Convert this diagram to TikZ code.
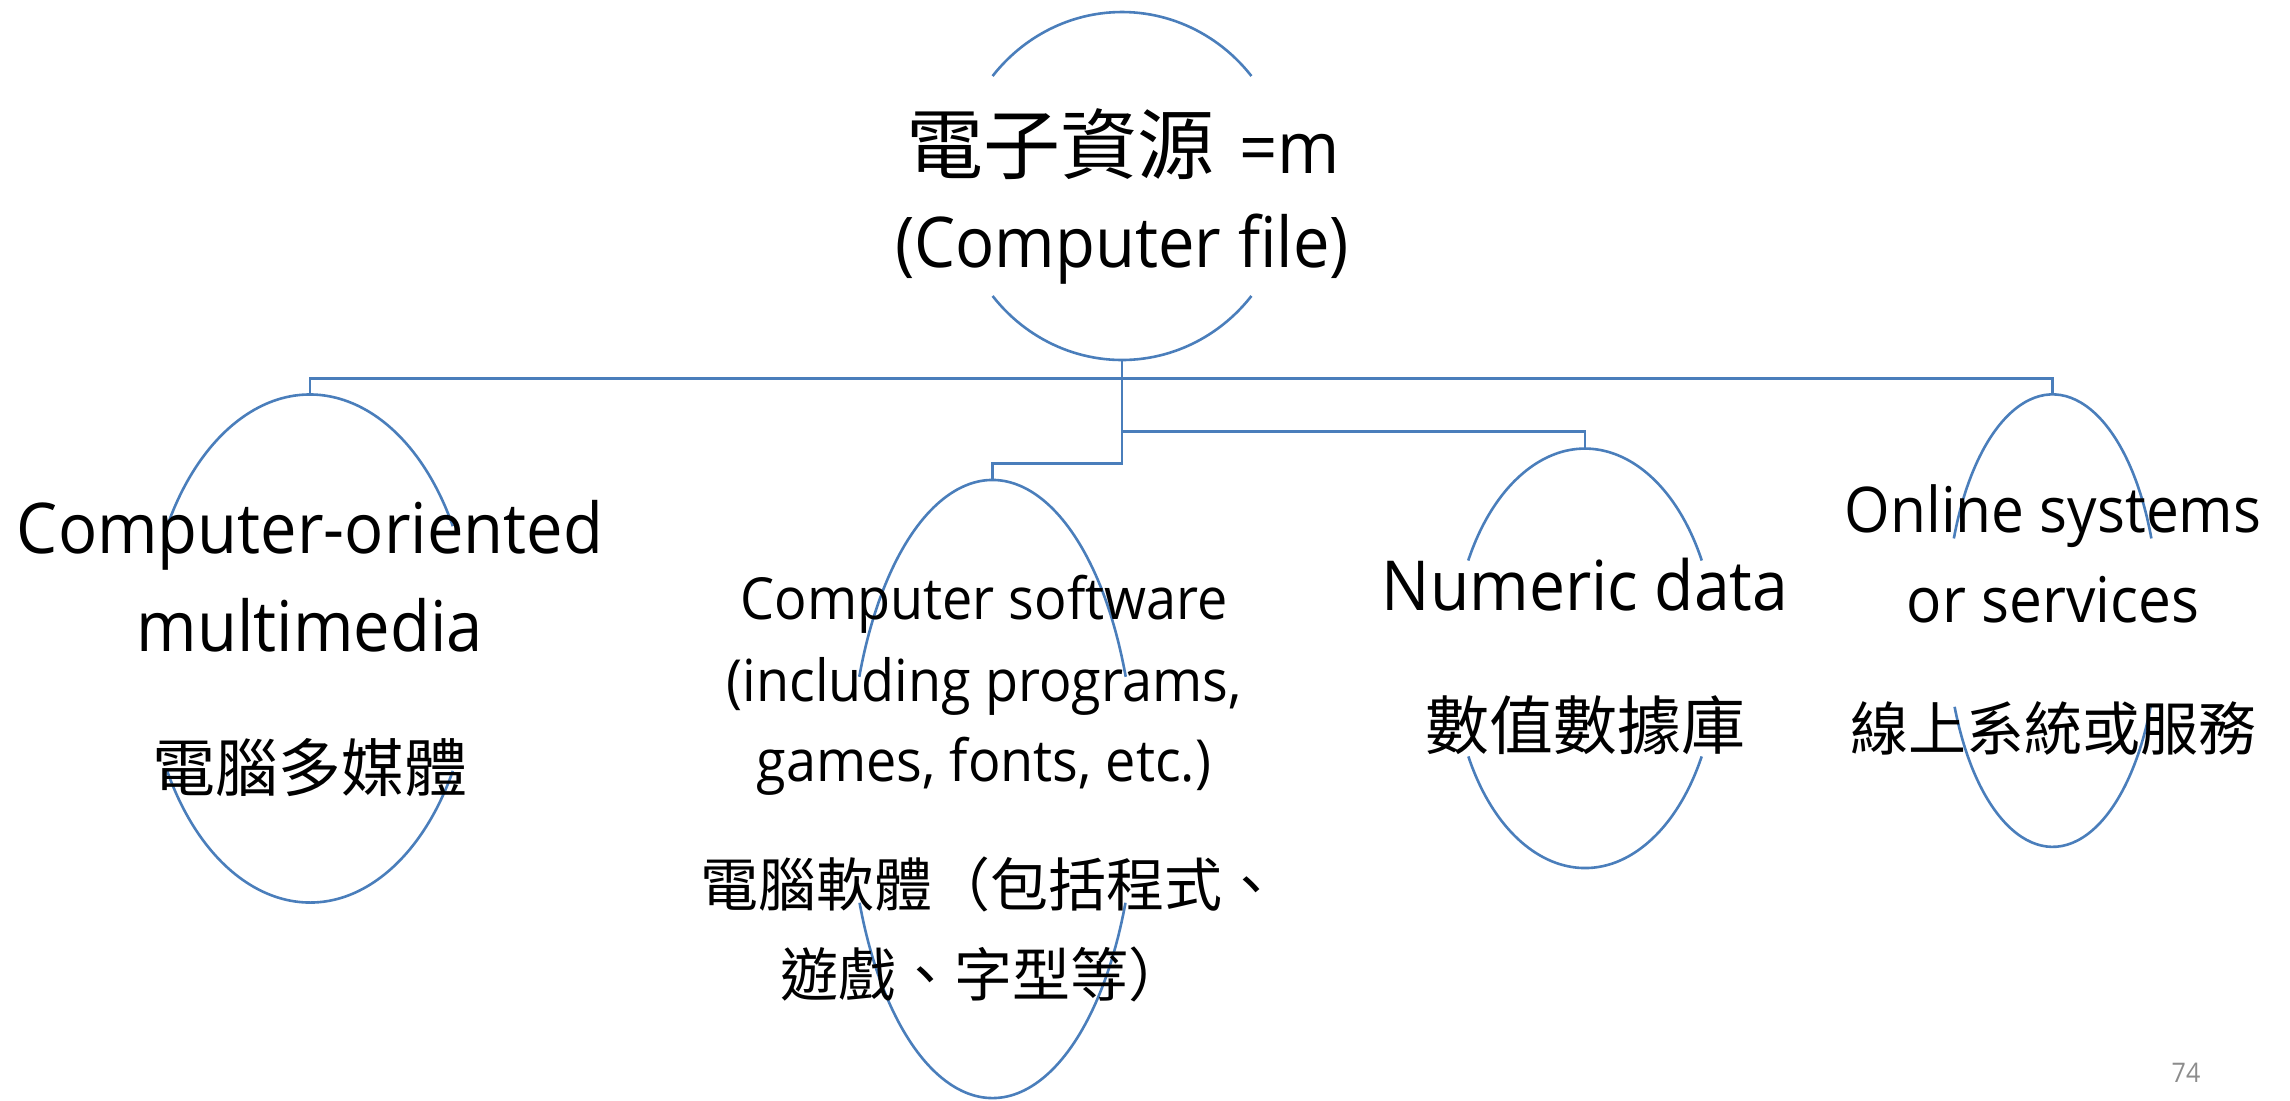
\documentclass[tikz,border=0pt]{standalone}
\usepackage{fontspec}
\setmainfont{Open Sans}[FakeStretch=0.93]
\newfontfamily\cjk{Noto Sans CJK TC}
\definecolor{edge}{HTML}{4A7EBB}
\definecolor{pagegray}{HTML}{8C8C8C}
\newcommand\ovalarcs[6]{%
  \draw[line] ({#1+#3*cos(#5)},{-#2+#4*sin(#5)}) arc[start angle=#5,end angle=180-#5,x radius=#3,y radius=#4];
  \draw[line] ({#1-#3*cos(#6)},{-#2-#4*sin(#6)}) arc[start angle=180+#6,end angle=360-#6,x radius=#3,y radius=#4];}
\begin{document}
\begin{tikzpicture}[x=0.5pt,y=0.5pt,
  line/.style={draw=edge,line width=1.3pt},
  lat/.style={anchor=base,inner sep=0pt},
  cj/.style={anchor=center,inner sep=0pt}]
\useasboundingbox (0,0) rectangle (2290,-1100);
% ellipses (outlines drawn as upper and lower arcs)
\ovalarcs{1122}{186}{167}{174}{39.2}{39.2}
\ovalarcs{310}{648.5}{163}{254}{28.8}{28.8}
\ovalarcs{992.5}{789}{143}{309}{21.3}{21.6}
\ovalarcs{1585}{658.3}{132}{209.7}{27.8}{27.9}
\ovalarcs{2052.6}{620.6}{106}{226.2}{21.3}{22.4}
% connector points
\coordinate (rootB) at (1122,-360);
\coordinate (bus) at (1122,-378.3);
\coordinate (nuK) at (1122,-431.7);
\coordinate (swK) at (1122,-463.3);
\coordinate (mmT) at (310,-394.3);
\coordinate (onT) at (2052.6,-394.4);
\coordinate (swT) at (992.5,-480);
\coordinate (nuT) at (1585,-448.6);
\draw[line] (rootB) -- (bus);
\draw[line] (mmT) |- (bus) -| (onT);
\draw[line] (bus) -- (swK) -| (swT);
\draw[line] (nuK) -| (nuT);
% texts
\node[lat,font=\fontsize{36}{36}\selectfont] (t1) at (1123,-173) {{\cjk\fontsize{38.5}{38.5}\selectfont 電子資源}\hspace{4pt} =m};
\node[lat,font=\fontsize{35}{35}\selectfont] (t2) at (1122,-267) {(Computer file)};
\node[lat,font=\fontsize{35}{35}\selectfont] (m1) at (310,-553) {Computer-oriented};
\node[lat,font=\fontsize{35}{35}\selectfont] (m2) at (310,-651) {multimedia};
\node[cj,font=\cjk\fontsize{31.5}{31.5}\selectfont] (m3) at (310,-768) {電腦多媒體};
\node[lat,font=\fontsize{29}{29}\selectfont] (s1) at (984,-619) {Computer software};
\node[lat,font=\fontsize{29}{29}\selectfont] (s2) at (984,-701) {(including programs,};
\node[lat,font=\fontsize{29}{29}\selectfont] (s3) at (984,-781.5) {games, fonts, etc.)};
\node[cj,font=\cjk\fontsize{29}{29}\selectfont] (s4) at (990,-884) {電腦軟體（包括程式、};
\node[cj,font=\cjk\fontsize{29}{29}\selectfont] (s5) at (983,-974) {遊戲、字型等）};
\node[lat,font=\fontsize{34.5}{34.5}\selectfont] (n1) at (1585,-610) {Numeric data};
\node[cj,font=\cjk\fontsize{32}{32}\selectfont] (n2) at (1585,-725) {數值數據庫};
\node[lat,font=\fontsize{31.5}{31.5}\selectfont] (o1) at (2053,-532) {Online systems};
\node[lat,font=\fontsize{31.5}{31.5}\selectfont] (o2) at (2053,-622) {or services};
\node[cj,font=\cjk\fontsize{29}{29}\selectfont] (o3) at (2053,-728) {線上系統或服務};
\node[lat,font=\fontsize{13.5}{13.5}\selectfont,text=pagegray] (pg) at (2186,-1082) {74};
\end{tikzpicture}
\end{document}
